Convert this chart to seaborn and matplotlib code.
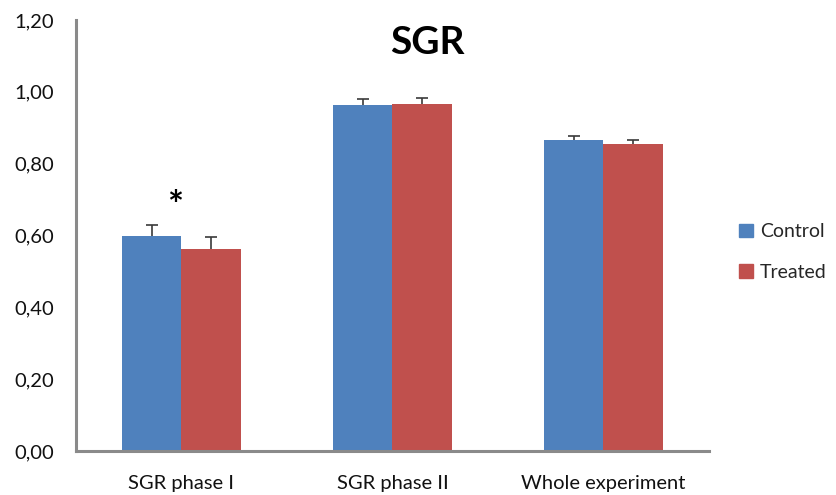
import matplotlib
matplotlib.use("Agg")
import matplotlib.pyplot as plt
import numpy as np
import pandas as pd
import seaborn as sns

# Data
phases = ["SGR phase I", "SGR phase II", "Whole experiment"]
groups = ["Control", "Treated"]
control_mean = [0.600, 0.964, 0.867]
treated_mean = [0.563, 0.967, 0.855]
control_err = [0.028, 0.017, 0.009]
treated_err = [0.034, 0.015, 0.012]
yticks = [0.0, 0.2, 0.4, 0.6, 0.8, 1.0, 1.2]

df = pd.DataFrame({
    "phase": phases * 2,
    "group": [groups[0]] * 3 + [groups[1]] * 3,
    "sgr": control_mean + treated_mean,
    "err": control_err + treated_err,
})

sns.set_theme(style="white")
plt.rcParams["font.family"] = ["Lato", "DejaVu Sans"]

fig = plt.figure(figsize=(8.37, 4.95), dpi=100)
ax = fig.add_axes([76 / 837, 44 / 495, 633 / 837, 431 / 495])

palette = {"Control": "#4F81BD", "Treated": "#C0504D"}
sns.barplot(data=df, x="phase", y="sgr", hue="group", hue_order=groups,
            order=phases, palette=palette, width=0.56, errorbar=None,
            saturation=1, linewidth=0, legend=False, ax=ax)

# upper-only error bars on each bar (stem + top cap)
cap = 0.03
for i, g in enumerate(groups):
    sub = df[df["group"] == g].set_index("phase").loc[phases]
    bars = ax.patches[i * 3:(i + 1) * 3]
    xs = np.array([b.get_x() + b.get_width() / 2 for b in bars])
    tops = sub["sgr"].values + sub["err"].values
    ax.vlines(xs, sub["sgr"].values, tops, color="#3a3a3a", linewidth=1.2)
    ax.hlines(tops, xs - cap, xs + cap, color="#3a3a3a", linewidth=1.2)

# significance marker
ax.text(-0.03, 0.678, "*", ha="center", va="center", fontsize=27,
        fontweight="bold", color="black")

ax.set_ylim(0, 1.2)
ax.set_xlim(-0.5, 2.5)
ax.set_yticks(yticks)
ax.set_yticklabels([f"{v:.2f}".replace(".", ",") for v in yticks])
ax.set_xticks(range(3))
ax.set_xticklabels(phases)
ax.set_xticks([-0.5, 0.5, 1.5, 2.5], minor=True)
ax.tick_params(axis="x", which="major", length=0, pad=17, labelsize=14.5,
               labelcolor="#111111")
ax.tick_params(axis="x", which="minor", length=5, width=2, color="#8a8a8a",
               direction="out")
ax.tick_params(axis="y", length=5, width=2, color="#8a8a8a", direction="out",
               pad=11, labelsize=14.5, labelcolor="#111111")
ax.set_xlabel("")
ax.set_ylabel("")

for side in ["top", "right"]:
    ax.spines[side].set_visible(False)
for side in ["left", "bottom"]:
    ax.spines[side].set_color("#8a8a8a")
    ax.spines[side].set_linewidth(2.2)

fig.text(427 / 837, 1 - 42 / 495, "SGR", ha="center", va="center",
         fontsize=28, fontweight="bold", color="black")

handles = [plt.Rectangle((0, 0), 1, 1, color=palette[g]) for g in groups]
fig.legend(handles, groups, loc="center left", bbox_to_anchor=(739 / 837, 1 - 252 / 495),
           frameon=False, fontsize=14, handlelength=0.72, handleheight=0.72,
           handletextpad=0.35, labelspacing=1.2, borderpad=0, borderaxespad=0)

fig.savefig("out.png", dpi=100)
